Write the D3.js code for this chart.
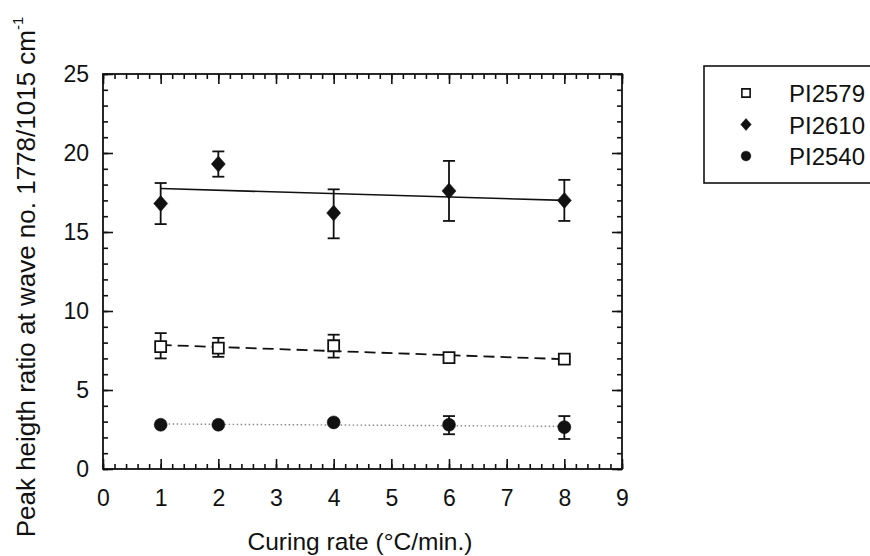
<!DOCTYPE html>
<html>
<head>
<meta charset="utf-8">
<script src="https://cdn.jsdelivr.net/npm/d3@7"></script>
<style>
  body { margin: 0; background: #fff; }
  text { font-family: "Liberation Sans", Arial, sans-serif; fill: #111; }
</style>
</head>
<body>
<div id="chart"></div>
<script>
'use strict';

// curing rates (°C/min.)
let rates = [1, 2, 4, 6, 8];

let pi2579 = [7.75, 7.65, 7.8, 7.05, 6.95];
let pi2579Lo = [7.0, 7.1, 7.05, 6.8, 6.8];
let pi2579Hi = [8.6, 8.3, 8.5, 7.3, 7.1];

let pi2610 = [16.8, 19.3, 16.2, 17.6, 17.0];
let pi2610Lo = [15.5, 18.5, 14.6, 15.7, 15.7];
let pi2610Hi = [18.1, 20.1, 17.7, 19.5, 18.3];

let pi2540 = [2.8, 2.8, 2.95, 2.8, 2.65];
let pi2540Lo = [2.8, 2.8, 2.95, 2.2, 1.9];
let pi2540Hi = [2.8, 2.8, 2.95, 3.35, 3.35];

// fitted trend lines, value at x = 1 and x = 8
let fitX = [1, 8];
let fit2579 = [7.85, 6.95];
let fit2610 = [17.75, 17.0];
let fit2540 = [2.85, 2.7];

let xTicks = [0, 1, 2, 3, 4, 5, 6, 7, 8, 9];
let yTicks = [0, 5, 10, 15, 20, 25];

let names = ['PI2579', 'PI2610', 'PI2540'];

draw();

function draw() {
    let svg = d3.select('#chart').append('svg')
        .attr('width', 870).attr('height', 556);

    let left = 103, right = 622, top = 74, bottom = 469;
    let x = d3.scaleLinear().domain([0, 9]).range([left, right]);
    let y = d3.scaleLinear().domain([0, 25]).range([bottom, top]);

    let minorX = d3.range(0, 9.001, 0.2);
    let minorY = d3.range(0, 25.001, 1);

    // ticks, all pointing inward
    function ticks(axisFn, scale, vals, size, pos, labels) {
        let g = svg.append('g').attr('transform', pos)
            .call(axisFn(scale).tickValues(vals).tickSize(-size).tickSizeOuter(0)
                .tickFormat(labels ? d3.format('d') : ''));
        g.select('.domain').remove();
        g.selectAll('line').attr('stroke', '#111').attr('stroke-width', 1.6);
        return g;
    }
    ticks(d3.axisBottom, x, minorX, 5, 'translate(0,' + bottom + ')', false);
    ticks(d3.axisTop, x, minorX, 5, 'translate(0,' + top + ')', false);
    ticks(d3.axisLeft, y, minorY, 5, 'translate(' + left + ',0)', false);
    ticks(d3.axisRight, y, minorY, 5, 'translate(' + right + ',0)', false);
    let gx = ticks(d3.axisBottom, x, xTicks, 10, 'translate(0,' + bottom + ')', true);
    ticks(d3.axisTop, x, xTicks, 10, 'translate(0,' + top + ')', false);
    let gy = ticks(d3.axisLeft, y, yTicks, 10, 'translate(' + left + ',0)', true);
    ticks(d3.axisRight, y, yTicks, 10, 'translate(' + right + ',0)', false);

    gx.selectAll('text').attr('y', 21).attr('font-size', 23).attr('fill', '#111');
    gy.selectAll('text').attr('x', -14).attr('font-size', 23).attr('fill', '#111');

    svg.append('rect')
        .attr('x', left).attr('y', top)
        .attr('width', right - left).attr('height', bottom - top)
        .attr('fill', 'none').attr('stroke', '#111').attr('stroke-width', 1.8);

    // axis titles
    svg.append('text')
        .attr('x', 360).attr('y', 550)
        .attr('text-anchor', 'middle').attr('font-size', 24.5)
        .text('Curing rate (°C/min.)');

    let yl = svg.append('text')
        .attr('transform', 'translate(35,' + 277 + ') rotate(-90)')
        .attr('text-anchor', 'middle').attr('font-size', 26);
    yl.append('tspan').text('Peak heigth ratio at wave no. 1778/1015 cm');
    yl.append('tspan').attr('dy', -12).attr('font-size', 15).text('-1');

    // trend lines
    let line = d3.line().x(function (d) { return x(d[0]); }).y(function (d) { return y(d[1]); });
    let fits = [
        { v: fit2610, dash: null, color: '#111', w: 1.6 },
        { v: fit2579, dash: '11,6', color: '#111', w: 1.8 },
        { v: fit2540, dash: '1.5,2.5', color: '#888', w: 1.4 }
    ];
    fits.forEach(function (f) {
        svg.append('path')
            .datum(d3.zip(fitX, f.v))
            .attr('d', line)
            .attr('fill', 'none')
            .attr('stroke', f.color)
            .attr('stroke-width', f.w)
            .attr('stroke-dasharray', f.dash);
    });

    // error bars
    let series = [
        { v: pi2579, lo: pi2579Lo, hi: pi2579Hi, sym: 'square' },
        { v: pi2610, lo: pi2610Lo, hi: pi2610Hi, sym: 'diamond' },
        { v: pi2540, lo: pi2540Lo, hi: pi2540Hi, sym: 'circle' }
    ];
    series.forEach(function (s) {
        let g = svg.append('g').attr('stroke', '#111').attr('stroke-width', 1.8);
        rates.forEach(function (r, i) {
            if (s.hi[i] - s.lo[i] < 0.01) return;
            let cx = x(r);
            g.append('line').attr('x1', cx).attr('x2', cx)
                .attr('y1', y(s.lo[i])).attr('y2', y(s.hi[i]));
            [s.lo[i], s.hi[i]].forEach(function (e) {
                g.append('line').attr('x1', cx - 6).attr('x2', cx + 6)
                    .attr('y1', y(e)).attr('y2', y(e));
            });
        });
    });

    // markers
    series.forEach(function (s) {
        svg.append('g').selectAll('path')
            .data(rates)
            .enter()
            .append('path')
            .attr('transform', function (d, i) { return 'translate(' + x(d) + ',' + y(s.v[i]) + ')'; })
            .attr('d', symbolPath(s.sym, 1))
            .attr('fill', s.sym === 'square' ? '#fff' : '#111')
            .attr('stroke', '#111')
            .attr('stroke-width', s.sym === 'square' ? 1.8 : 0.5);
    });

    // legend
    let lg = svg.append('g');
    lg.append('rect')
        .attr('x', 704).attr('y', 66).attr('width', 200).attr('height', 117)
        .attr('fill', '#fff').attr('stroke', '#111').attr('stroke-width', 1.6);
    names.forEach(function (n, i) {
        let yy = 93 + i * 31.5;
        lg.append('path')
            .attr('transform', 'translate(746,' + yy + ')')
            .attr('d', symbolPath(series[i].sym, 0.75))
            .attr('fill', series[i].sym === 'square' ? '#fff' : '#111')
            .attr('stroke', '#111')
            .attr('stroke-width', series[i].sym === 'square' ? 1.6 : 0.5);
        lg.append('text')
            .attr('x', 789).attr('y', yy + 9)
            .attr('font-size', 24)
            .text(n);
    });
}

function symbolPath(sym, k) {
    if (sym === 'square') {
        let h = 5.5 * k;
        return 'M' + -h + ',' + -h + 'H' + h + 'V' + h + 'H' + -h + 'Z';
    }
    if (sym === 'diamond') {
        let w = 7 * k, h = 8 * k;
        return 'M0,' + -h + 'L' + w + ',0L0,' + h + 'L' + -w + ',0Z';
    }
    let r = 6.5 * k;
    return 'M' + r + ',0A' + r + ',' + r + ' 0 1,1 ' + -r + ',0A' + r + ',' + r + ' 0 1,1 ' + r + ',0Z';
}
</script>
</body>
</html>
